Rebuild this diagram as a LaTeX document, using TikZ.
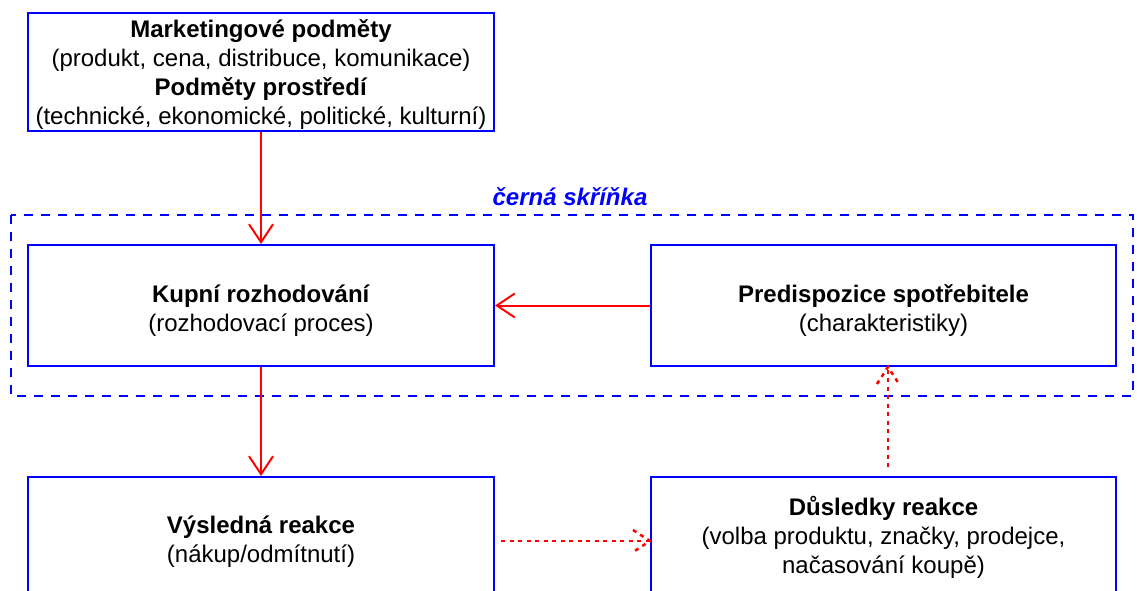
\documentclass[tikz,border=0pt]{standalone}
\usepackage{fontspec}
\setmainfont{Liberation Sans}
\usetikzlibrary{arrows.meta,calc}
\definecolor{bblue}{RGB}{0,0,255}
\definecolor{rred}{RGB}{255,0,0}
\begin{document}
\begin{tikzpicture}[x=1pt,y=-1pt,
  box/.style={draw=bblue,line width=2pt,rectangle,inner sep=0pt},
  txt/.style={align=center,inner sep=0pt,font=\fontsize{24pt}{29pt}\selectfont},
  redarrow/.style={draw=rred,line width=2pt,-{Straight Barb[length=18pt,width=24pt,line width=2pt]}},
  dotline/.style={draw=rred,line width=2.5pt,dash pattern=on 4pt off 4.5pt}
]
\useasboundingbox (0,0) rectangle (1137,591);
\clip (0,0) rectangle (1137,591);
% black box
\draw[bblue,line width=2pt,dash pattern=on 9pt off 8pt] (11,215) rectangle (1133,396);
\node[text=bblue,font=\fontsize{24pt}{29pt}\selectfont\bfseries\itshape] (lbl) at (570,197) {černá skříňka};
% boxes
\node[box,minimum width=466pt,minimum height=118pt] (top) at (261,72) {};
\node[txt] (topt) at (261,75)
  {\textbf{Marketingové podměty}\\(produkt, cena, distribuce, komunikace)\\\textbf{Podměty prostředí}\\(technické, ekonomické, politické, kulturní)};
\node[box,minimum width=466pt,minimum height=121pt] (kup) at (261,305.5) {};
\node[txt] (kupt) at (261,311) {\textbf{Kupní rozhodování}\\(rozhodovací proces)};
\node[box,minimum width=465pt,minimum height=121pt] (pred) at (883.5,305.5) {};
\node[txt] (predt) at (883.5,311) {\textbf{Predispozice spotřebitele}\\(charakteristiky)};
\node[box,minimum width=466pt,minimum height=130pt] (vys) at (261,542) {};
\node[txt] (vyst) at (261,541.5) {\textbf{Výsledná reakce}\\(nákup/odmítnutí)};
\node[box,minimum width=465pt,minimum height=130pt] (dus) at (883.5,542) {};
\node[txt] (dust) at (883.5,537) {\textbf{Důsledky reakce}\\(volba produktu, značky, prodejce,\\načasování koupě)};
% arrows
\draw[redarrow] (top.south) -- (kup.north);
\draw[redarrow] (kup.south) -- (vys.north);
\draw[redarrow] (pred.west) -- (kup.east);
% dotted arrows
\coordinate (t1) at (dus.west |- 0,541);
\draw[dotline] ([xshift=6pt]vys.east |- t1) -- (t1);
\draw[dotline] ($(t1)+(-17,-11)$) -- (t1) -- ($(t1)+(-17,11)$);
\coordinate (t2) at ([xshift=4.5pt]pred.south);
\draw[dotline] ([xshift=4.5pt,yshift=9pt]dus.north) -- (t2);
\draw[dotline] ($(t2)+(-11,17)$) -- (t2) -- ($(t2)+(11,17)$);
\end{tikzpicture}
\end{document}
